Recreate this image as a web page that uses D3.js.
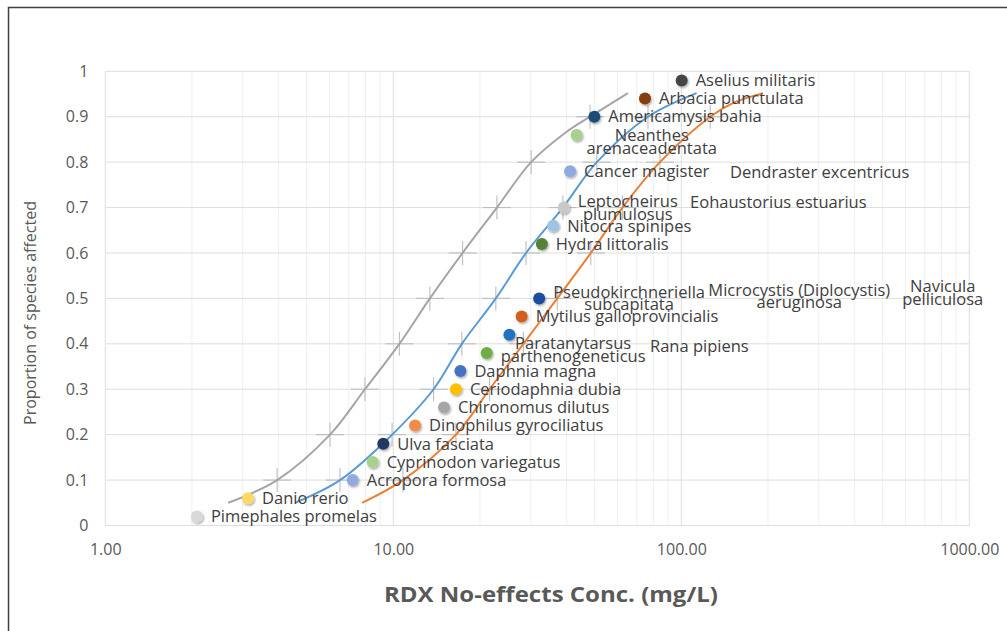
<!DOCTYPE html>
<html>
<head>
<meta charset="utf-8">
<script src="https://cdn.jsdelivr.net/npm/d3@7"></script>
<style>
  html, body { margin: 0; padding: 0; background: #fff; }
  svg { display: block; font-family: "Open Sans", "DejaVu Sans", sans-serif; }
</style>
</head>
<body>
<svg id="chart" width="1007" height="631"></svg>
<script>
// ---------------- data ----------------
const xTickValues = [1, 10, 100, 1000];
const xTickLabels = ["1.00", "10.00", "100.00", "1000.00"];
const yTickValues = [0, 0.1, 0.2, 0.3, 0.4, 0.5, 0.6, 0.7, 0.8, 0.9, 1];
const yTickLabels = ["0", "0.1", "0.2", "0.3", "0.4", "0.5", "0.6", "0.7", "0.8", "0.9", "1"];

const species = ["Pimephales promelas", "Danio rerio", "Acropora formosa", "Cyprinodon variegatus",
  "Ulva fasciata", "Dinophilus gyrociliatus", "Chironomus dilutus", "Ceriodaphnia dubia",
  "Daphnia magna", "Paratanytarsus parthenogeneticus", "", "Mytilus galloprovincialis",
  "Pseudokirchneriella subcapitata", "Hydra littoralis", "Nitocra spinipes",
  "Leptocheirus plumulosus", "Cancer magister", "Neanthes arenaceadentata",
  "Americamysis bahia", "Arbacia punctulata", "Aselius militaris"];
const speciesConc = [2.08, 3.13, 7.23, 8.48, 9.23, 11.9, 15.0, 16.5, 17.1, 21.1, 25.3, 27.9,
  32.1, 32.8, 35.9, 39.1, 41.1, 43.3, 49.9, 74.8, 100.3];
const speciesProp = [0.02, 0.06, 0.10, 0.14, 0.18, 0.22, 0.26, 0.30, 0.34, 0.38, 0.42, 0.46,
  0.50, 0.62, 0.66, 0.70, 0.78, 0.86, 0.90, 0.94, 0.98];
const speciesColor = ["#d9d9d9", "#ffd966", "#8faadc", "#a9d18e", "#203864", "#f08c4a",
  "#a6a6a6", "#ffc000", "#4472c4", "#70ad47", "#2372c0", "#d45f1e", "#1f4e9c", "#548235",
  "#9dc3e6", "#c9c9c9", "#8faadc", "#a9d18e", "#1f4e79", "#843c0c", "#444444"];

// labels whose markers are not shown
const extraLabels = ["Dendraster excentricus", "Eohaustorius estuarius",
  "Microcystis (Diplocystis) aeruginosa", "Navicula pelliculosa", "Rana pipiens"];
const extraConc = [132, 95.9, 111, 523, 69.6];
const extraProp = [0.778, 0.712, 0.505, 0.513, 0.395];

// fitted curves
const grayX = [2.67, 3.95, 6.03, 7.97, 10.5, 13.4, 17.4, 22.9, 30.1, 40.0, 48.2, 65.3];
const grayY = [0.05, 0.10, 0.20, 0.30, 0.40, 0.50, 0.60, 0.70, 0.80, 0.867, 0.90, 0.952];
const blueX = [4.56, 6.53, 9.9, 13.8, 17.3, 22.7, 28.9, 38.8, 50.9, 76.6, 113];
const blueY = [0.05, 0.10, 0.20, 0.30, 0.40, 0.50, 0.60, 0.70, 0.80, 0.90, 0.952];
const orangeX = [7.79, 10.8, 16.5, 21.6, 28.3, 37.1, 48.5, 62.5, 84.3, 126, 151, 192];
const orangeY = [0.05, 0.10, 0.20, 0.30, 0.40, 0.50, 0.60, 0.70, 0.80, 0.90, 0.930, 0.952];
const crossLevels = [0.1, 0.2, 0.3, 0.4, 0.5, 0.6, 0.7, 0.8, 0.9];

// ---------------- drawing ----------------
const svg = d3.select("#chart");
const x = d3.scaleLog().domain([1, 1000]).range([105.3, 969.3]);
const y = d3.scaleLinear().domain([0, 1]).range([525.5, 71.3]);

const defs = svg.append("defs");
const f = defs.append("filter").attr("id", "shadow").attr("x", "-50%").attr("y", "-50%")
  .attr("width", "200%").attr("height", "200%");
f.append("feDropShadow").attr("dx", 1).attr("dy", 1.5).attr("stdDeviation", 1)
  .attr("flood-color", "#000").attr("flood-opacity", 0.35);

svg.append("rect").attr("x", 8.5).attr("y", 7.5).attr("width", 1100).attr("height", 700)
  .attr("fill", "#fff").attr("stroke", "#404040").attr("stroke-width", 1.5);

// grid
const minorTicks = [];
[1, 10, 100].forEach(d => { for (let k = 2; k <= 9; k++) minorTicks.push(d * k); });
svg.append("g").selectAll("line").data(minorTicks).join("line")
  .attr("x1", d => x(d)).attr("x2", d => x(d)).attr("y1", y(0)).attr("y2", y(1))
  .attr("stroke", "#f0f0f0").attr("stroke-width", 1);
svg.append("g").selectAll("line").data(xTickValues).join("line")
  .attr("x1", d => x(d)).attr("x2", d => x(d)).attr("y1", y(0)).attr("y2", y(1))
  .attr("stroke", "#dedede").attr("stroke-width", 1);
svg.append("g").selectAll("line").data(yTickValues).join("line")
  .attr("x1", x(1)).attr("x2", x(1000)).attr("y1", d => y(d)).attr("y2", d => y(d))
  .attr("stroke", "#dedede").attr("stroke-width", 1);

// axes
const yAxis = d3.axisLeft(y).tickValues(yTickValues).tickSize(0).tickPadding(17)
  .tickFormat((d, i) => yTickLabels[i]);
const gy = svg.append("g").attr("transform", `translate(${x(1)},0)`).call(yAxis);
gy.select(".domain").remove();
gy.selectAll("text").attr("font-size", 16).attr("fill", "#595959")
  .attr("font-family", "Open Sans");

const xAxis = d3.axisBottom(x).tickValues(xTickValues).tickSize(0).tickPadding(18)
  .tickFormat((d, i) => xTickLabels[i]);
const gx = svg.append("g").attr("transform", `translate(0,${y(0)})`).call(xAxis);
gx.select(".domain").remove();
gx.selectAll("text").attr("font-size", 16).attr("fill", "#595959")
  .attr("font-family", "Open Sans");

// titles
svg.append("text").attr("x", 551).attr("y", 602).attr("text-anchor", "middle")
  .attr("font-size", 22).attr("font-weight", "bold").attr("fill", "#595959")
  .attr("textLength", 334).attr("lengthAdjust", "spacingAndGlyphs")
  .text("RDX No-effects Conc. (mg/L)");
svg.append("text").attr("transform", "translate(36,313) rotate(-90)")
  .attr("text-anchor", "middle").attr("font-size", 16).attr("fill", "#595959")
  .text("Proportion of species affected");

// curves
const line = d3.line().x(d => x(d[0])).y(d => y(d[1])).curve(d3.curveCatmullRom.alpha(0.5));
const curves = [
  { xs: grayX, ys: grayY, color: "#a5a5a5" },
  { xs: blueX, ys: blueY, color: "#5b9bd5" },
  { xs: orangeX, ys: orangeY, color: "#ed7d31" }
];
// cross marks (error bars)
const crossG = svg.append("g");
curves.forEach(c => {
  c.xs.forEach((xv, i) => {
    if (!crossLevels.some(l => Math.abs(l - c.ys[i]) < 1e-6)) return;
    const cx = x(xv), cy = y(c.ys[i]);
    crossG.append("line").attr("x1", cx - 14).attr("x2", cx + 14).attr("y1", cy).attr("y2", cy)
      .attr("stroke", "#bdbdbd").attr("stroke-width", 1.1);
    crossG.append("line").attr("x1", cx).attr("x2", cx).attr("y1", cy - 12).attr("y2", cy + 12)
      .attr("stroke", "#bdbdbd").attr("stroke-width", 1.1);
  });
});
curves.forEach(c => {
  svg.append("path").datum(c.xs.map((v, i) => [v, c.ys[i]]))
    .attr("d", line).attr("fill", "none").attr("stroke", c.color).attr("stroke-width", 2);
});

// markers
const pts = species.map((s, i) => ({ name: s, cx: x(speciesConc[i]), cy: y(speciesProp[i]), color: speciesColor[i] }));
svg.append("g").selectAll("circle").data(pts).join("circle")
  .attr("cx", d => d.cx).attr("cy", d => d.cy).attr("r", 6)
  .attr("fill", d => d.color).attr("filter", "url(#shadow)");

// labels
const wrapped = new Set(["Paratanytarsus parthenogeneticus", "Pseudokirchneriella subcapitata",
  "Leptocheirus plumulosus", "Neanthes arenaceadentata",
  "Microcystis (Diplocystis) aeruginosa", "Navicula pelliculosa"]);
const nudge = { "Neanthes arenaceadentata": [-4, 7], "Paratanytarsus parthenogeneticus": [0, -3] };
const allLabels = pts.map(p => ({ name: p.name, cx: p.cx, cy: p.cy }))
  .concat(extraLabels.map((s, i) => ({ name: s, cx: x(extraConc[i]), cy: y(extraProp[i]) })));
const lg = svg.append("g").attr("font-size", 16.5).attr("fill", "#404040");
allLabels.forEach(L => {
  if (!L.name) return;
  const nd = nudge[L.name] || [0, 0];
  const left = L.cx + 14 + nd[0];
  const cy = L.cy + nd[1];
  if (wrapped.has(L.name)) {
    const k = L.name.lastIndexOf(" ");
    const lines = [L.name.slice(0, k), L.name.slice(k + 1)];
    const lh = 12.5;
    const ts = lines.map((t, j) => lg.append("text").attr("y", cy + (j - 0.5) * lh).attr("dy", "0.35em").text(t));
    const w = ts.map(t => t.node().getComputedTextLength());
    const W = Math.max(...w);
    ts.forEach((t, j) => t.attr("x", left + (W - w[j]) / 2));
  } else {
    lg.append("text").attr("x", left).attr("y", cy).attr("dy", "0.35em").text(L.name);
  }
});
</script>
</body>
</html>
